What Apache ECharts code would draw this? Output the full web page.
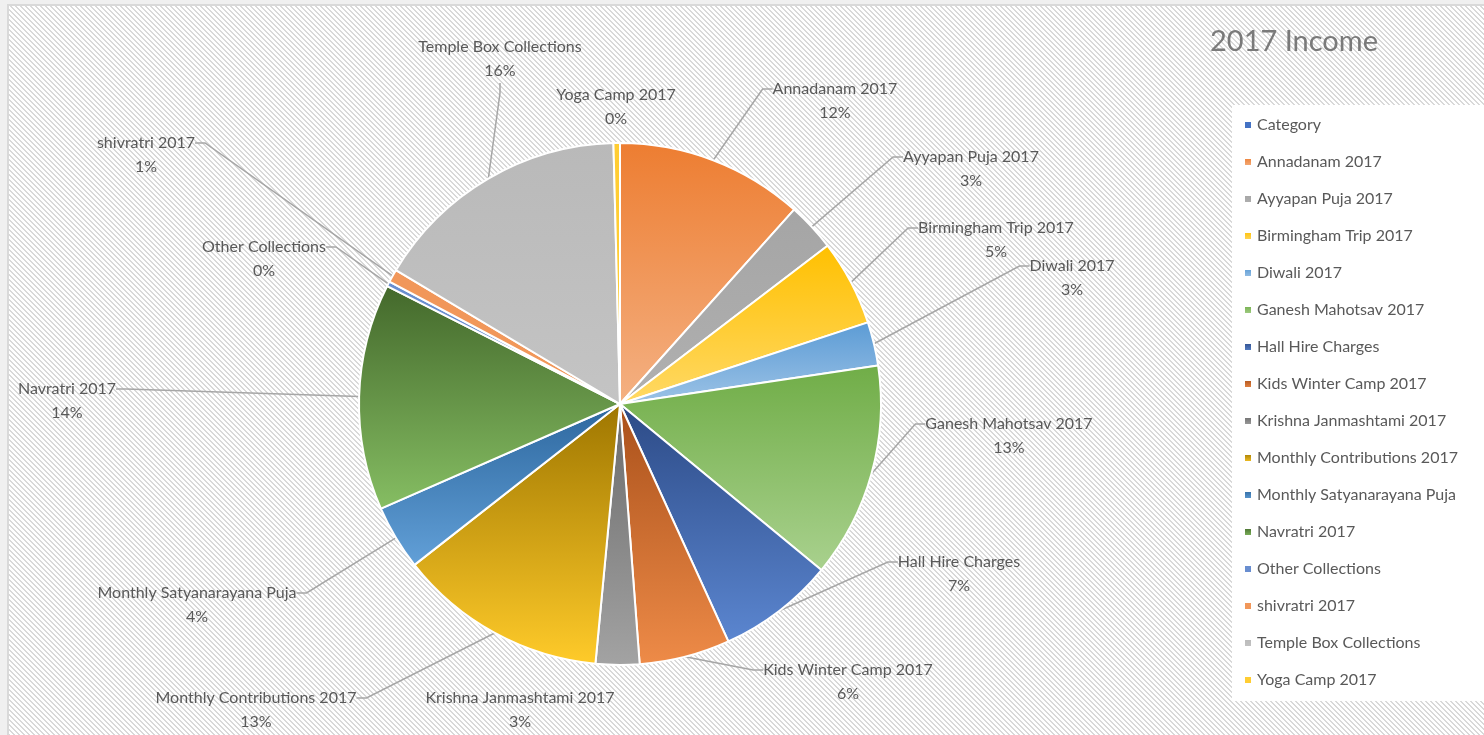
<!DOCTYPE html>
<html>
<head>
<meta charset="utf-8">
<script src="https://cdn.jsdelivr.net/npm/echarts@6/dist/echarts.min.js"></script>
<style>
  html, body { margin: 0; padding: 0; background: #f0f0f0; }
  #chart { width: 1484px; height: 735px; }
</style>
</head>
<body>
<div id="chart"></div>
<script>
// data (share of 2017 income, in %)
const categories = [
  'Category', 'Annadanam 2017', 'Ayyapan Puja 2017', 'Birmingham Trip 2017', 'Diwali 2017',
  'Ganesh Mahotsav 2017', 'Hall Hire Charges', 'Kids Winter Camp 2017', 'Krishna Janmashtami 2017',
  'Monthly Contributions 2017', 'Monthly Satyanarayana Puja', 'Navratri 2017', 'Other Collections',
  'shivratri 2017', 'Temple Box Collections', 'Yoga Camp 2017'
];
const values = [0, 11.6, 3.0, 5.3, 2.7, 13.3, 7.2, 5.6, 2.7, 12.9, 4.0, 14.0, 0.3, 0.8, 16.0, 0.4];

// slice colours: top -> bottom of each slice
const colorTop = ['#4472C4', '#ED7D31', '#A5A5A5', '#FFC000', '#5B9BD5', '#70AD47', '#2C4A86', '#A9501A',
  '#6A6A6A', '#9E7600', '#2D679E', '#43682B', '#698ED0', '#F1975A', '#B9B9B9', '#FFCD33'];
const colorBottom = ['#4472C4', '#F4B183', '#B0B0B0', '#FFD966', '#9DC3E6', '#A9D18E', '#5B86D0', '#EE8B48',
  '#A3A3A3', '#FFCB2A', '#62A0D8', '#86BE63', '#698ED0', '#F1975A', '#C4C4C4', '#FFCD33'];

// where Excel put each label (centre x, centre y of the first text line)
const labelPos = {
  'Annadanam 2017': [835, 89],
  'Ayyapan Puja 2017': [971, 157],
  'Birmingham Trip 2017': [996, 228],
  'Diwali 2017': [1072, 266],
  'Ganesh Mahotsav 2017': [1009, 424],
  'Hall Hire Charges': [959, 562],
  'Kids Winter Camp 2017': [848, 670],
  'Krishna Janmashtami 2017': [520, 698],
  'Monthly Contributions 2017': [256, 698],
  'Monthly Satyanarayana Puja': [197, 593],
  'Navratri 2017': [67, 389],
  'Other Collections': [264, 247],
  'shivratri 2017': [146, 143],
  'Temple Box Collections': [500, 47],
  'Yoga Camp 2017': [616, 95]
};
// labels sitting close to their slice have no leader line
const noLeader = ['Category', 'Krishna Janmashtami 2017', 'Yoga Camp 2017'];

// hatched background tile
function hatch() {
  const s = 5;
  const c = document.createElement('canvas');
  c.width = s; c.height = s;
  const ctx = c.getContext('2d');
  ctx.fillStyle = '#ffffff';
  ctx.fillRect(0, 0, s, s);
  ctx.fillStyle = '#d9d9d9';
  for (let i = 0; i < s; i++) {
    ctx.fillRect(i, i, 1, 1);
    ctx.fillRect(i, (i + 1) % s, 1, 1);
  }
  return c;
}

const myChart = echarts.init(document.getElementById('chart'));

const pieData = categories.map((name, i) => {
  const item = {
    name: name,
    value: values[i],
    itemStyle: {
      color: new echarts.graphic.LinearGradient(0, 0, 0, 1, [
        {offset: 0, color: colorTop[i]},
        {offset: 1, color: colorBottom[i]}
      ])
    }
  };
  if (name === 'Category') {
    item.label = {show: false};
  }
  if (noLeader.indexOf(name) >= 0) {
    item.labelLine = {show: false};
  }
  return item;
});

const option = {
  backgroundColor: '#f0f0f0',
  textStyle: {fontFamily: 'Lato'},
  graphic: [
    {
      type: 'rect', z: -10, silent: true,
      shape: {x: 8, y: 5, width: 1490, height: 740},
      style: {fill: {image: hatch(), repeat: 'repeat'}, stroke: '#d9d9d9', lineWidth: 2}
    },
    {
      type: 'rect', z: -5, silent: true,
      shape: {x: 1232, y: 105, width: 260, height: 596},
      style: {fill: '#ffffff'}
    }
  ],
  title: {
    text: '2017 Income',
    left: 1205,
    top: 22,
    textStyle: {fontFamily: 'Lato', fontSize: 29, fontWeight: 'normal', color: '#7a7a7a'}
  },
  legend: {
    orient: 'vertical',
    left: 1238,
    top: 112,
    itemWidth: 8,
    itemHeight: 8,
    itemGap: 21,
    icon: 'rect',
    textStyle: {fontFamily: 'Lato', fontSize: 16, color: '#595959'},
    data: categories
  },
  series: [{
    type: 'pie',
    name: '2017 Income',
    center: [620, 404],
    radius: 261,
    startAngle: 90,
    clockwise: true,
    silent: true,
    animation: false,
    avoidLabelOverlap: false,
    percentPrecision: 0,
    itemStyle: {borderColor: '#ffffff', borderWidth: 2},
    label: {
      show: true,
      position: 'outside',
      // leading blank line keeps the guide line level with the name line
      formatter: '\n{b}\n{d}%',
      fontFamily: 'Lato',
      fontSize: 16,
      lineHeight: 24,
      color: '#595959',
      align: 'center'
    },
    labelLine: {
      show: true,
      length: 20,
      length2: 10,
      lineStyle: {color: '#a6a6a6', width: 1.5}
    },
    labelLayout: function (params) {
      const name = categories[params.dataIndex];
      const p = labelPos[name];
      if (!p) return {};
      return {x: p[0], y: p[1], align: 'center', verticalAlign: 'middle'};
    },
    data: pieData
  }]
};

myChart.setOption(option);
</script>
</body>
</html>
